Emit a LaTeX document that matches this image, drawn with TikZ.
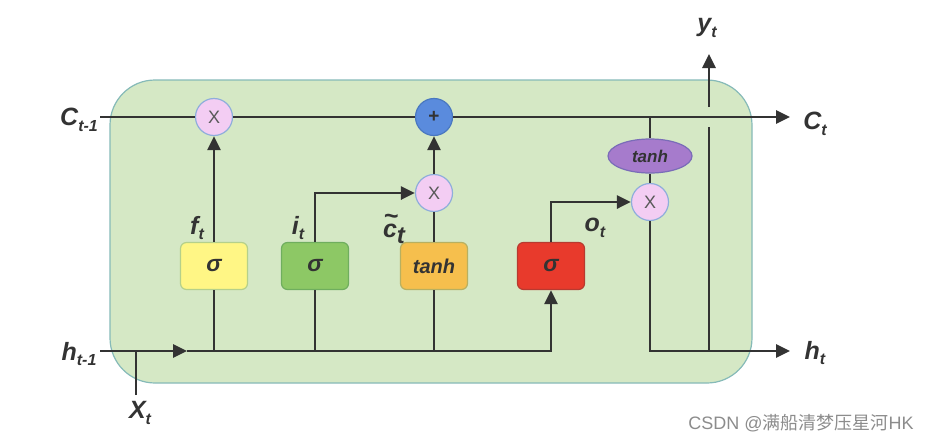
\documentclass[tikz,border=0pt]{standalone}
\usepackage{fontspec}
\setmainfont{Liberation Sans}
\newfontfamily\cjkfont{Noto Sans CJK SC}
\usetikzlibrary{arrows.meta,shapes.geometric}
\definecolor{cellfill}{HTML}{D5E8C5}
\definecolor{celledge}{HTML}{86BAB8}
\definecolor{wirec}{HTML}{333333}
\definecolor{multfill}{HTML}{F3CDF3}
\definecolor{multedge}{HTML}{8FAEDB}
\definecolor{addfill}{HTML}{5A8BDD}
\definecolor{addedge}{HTML}{4A78C0}
\definecolor{tanhfill}{HTML}{A67BCC}
\definecolor{tanhedge}{HTML}{7A6CB8}
\definecolor{forgetfill}{HTML}{FFF685}
\definecolor{forgetedge}{HTML}{B5D08A}
\definecolor{inputfill}{HTML}{8DC865}
\definecolor{inputedge}{HTML}{6FAE5E}
\definecolor{candfill}{HTML}{F6BF4D}
\definecolor{candedge}{HTML}{B8B060}
\definecolor{outfill}{HTML}{E83A2C}
\definecolor{outedge}{HTML}{B83A30}
\newcommand{\sublab}[2]{\bfseries\itshape #1\raisebox{-0.45ex}{\fontsize{16}{16}\selectfont #2}}

\begin{document}
\begin{tikzpicture}[x=1pt,y=-1pt,
  wire/.style={line width=2.8pt, draw=wirec},
  flow/.style={wire, -{Triangle[length=14pt,width=13pt]}},
  gatebox/.style={rectangle, rounded corners=6pt, minimum width=67pt, minimum height=47pt,
    fill=#1fill, draw=#1edge, line width=1.2pt, text=wirec, font=\bfseries\itshape\fontsize{23}{23}\selectfont},
  mult/.style={circle, minimum size=37pt, inner sep=0pt, fill=multfill, draw=multedge, line width=1.2pt,
    text=black!65, font=\fontsize{18}{18}\selectfont},
  lab/.style={text=wirec, font=\fontsize{25}{25}\selectfont, inner sep=0pt}
]
\useasboundingbox (0,0) rectangle (936,442);
\draw[fill=cellfill, draw=celledge, line width=1.2pt, rounded corners=45pt] (110,80) rectangle (752,383);

\node[mult] (mf) at (214,117) {X};
\node[circle, minimum size=37pt, inner sep=0pt, fill=addfill, draw=addedge, line width=1.2pt,
  text=wirec, font=\bfseries\fontsize{19}{19}\selectfont] (add) at (434,117) {+};
\node[mult] (mi) at (434,193) {X};
\node[mult] (mo) at (650,202) {X};
\node[ellipse, minimum width=84pt, minimum height=34pt, inner sep=0pt, fill=tanhfill, draw=tanhedge,
  line width=1.2pt, text=wirec, font=\bfseries\itshape\fontsize{17}{17}\selectfont] (th) at (650,156) {tanh};

\node[gatebox=forget] (gf) at (214,266) {σ};
\node[gatebox=input] (gi) at (315,266) {σ};
\node[gatebox=cand, font=\bfseries\itshape\fontsize{20}{20}\selectfont] (gc) at (434,266) {tanh};
\node[gatebox=out] (go) at (551,266) {σ};

\coordinate (cin) at (100,117);
\coordinate (cout) at (790,117);
\coordinate (ctap) at (650,117);
\coordinate (hin) at (100,351);
\coordinate (harr) at (187,351);
\coordinate (hout) at (790,351);
\coordinate (xin) at (136,395);
\coordinate (ytap) at (709,351);
\coordinate (ylow) at (709,127);
\coordinate (yhigh) at (709,107);
\coordinate (yend) at (709,54);

\draw[wire] (cin) -- (mf) -- (add);
\draw[flow] (add) -- (cout);
\draw[wire] (ctap) -- (th);
\draw[wire] (th) -- (mo);
\draw[flow] (mo) |- (hout);
\draw[wire] (ytap) -- (ylow);
\draw[flow] (yhigh) -- (yend);

\draw[flow] (hin) -- (harr);
\draw[flow] (harr) -| (go);
\draw[wire] (xin) -- (xin |- hin);
\draw[wire] (gf |- hin) -- (gf);
\draw[wire] (gi |- hin) -- (gi);
\draw[wire] (gc |- hin) -- (gc);

\draw[flow] (gf) -- (mf);
\draw[flow] (gi) |- (mi);
\draw[wire] (gc) -- (mi);
\draw[flow] (mi) -- (add);
\draw[flow] (go) |- (mo);

\node[lab] (lcin) at (79,120) {\sublab{C}{t-1}};
\node[lab] (lcout) at (815,124) {\sublab{C}{t}};
\node[lab] (lhin) at (79,354) {\sublab{h}{t-1}};
\node[lab] (lhout) at (815,353) {\sublab{h}{t}};
\node[lab] (lx) at (140,413) {\sublab{X}{t}};
\node[lab] (ly) at (707,28) {\sublab{y}{t}};
\node[lab] (lf) at (197,228) {\sublab{f}{t}};
\node[lab] (li) at (298,228) {\sublab{i}{t}};
\node[lab] (lc) at (394,229) {\sublab{\rlap{\raisebox{0.5em}{\kern0.02em\textasciitilde}}c}{\fontsize{24}{24}\selectfont t}};
\node[lab] (lo) at (595,228) {\sublab{o}{t}};
\node[text=black!45, inner sep=0pt, font=\fontsize{18}{18}\selectfont] (mark) at (801,423) {CSDN @{\cjkfont 满船清梦压星河}HK};
\end{tikzpicture}
\end{document}
